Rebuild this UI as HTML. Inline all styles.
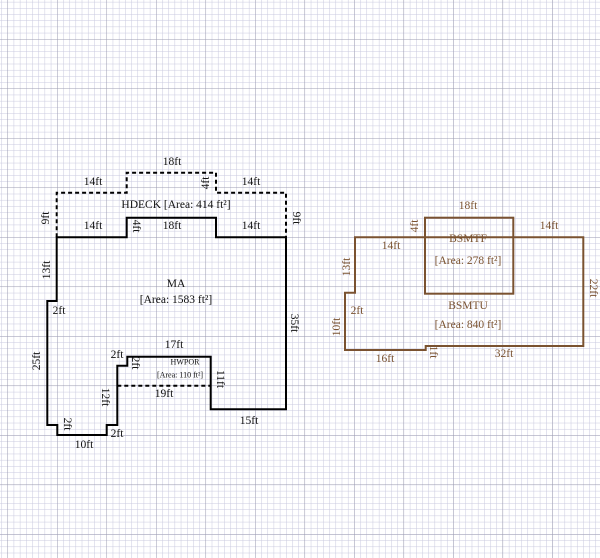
<!DOCTYPE html>
<html><head><meta charset="utf-8"><style>
html,body{margin:0;padding:0;background:#fff}
svg{display:block}
text{font-family:"Liberation Serif",serif;font-size:11.5px;fill:#111;text-anchor:middle;dominant-baseline:central}
.b text, text.b{fill:#7a5230}
</style></head><body>
<svg width="600" height="558" xmlns="http://www.w3.org/2000/svg">
<defs>
<pattern id="mn" x="57" y="39" width="6.19" height="6.19" patternUnits="userSpaceOnUse">
<path d="M0 0H6.19M0 0V6.19" stroke="#c8c8de" stroke-width="1" fill="none"/>
</pattern>
<pattern id="mj" x="57" y="39" width="49.5" height="49.5" patternUnits="userSpaceOnUse">
<path d="M0 0H49.5M0 0V49.5" stroke="#9c9cb2" stroke-width="1" fill="none"/>
</pattern>
</defs>
<rect width="600" height="558" fill="#fff"/>
<rect width="600" height="558" fill="url(#mn)"/>
<rect width="600" height="558" fill="url(#mj)"/>

<path d="M56.7 237.3V192.7H126.7V172.7H216V192.7H286V237.3" fill="none" stroke="#000" stroke-width="2" stroke-dasharray="4,3"/>
<path d="M56.7 237.3H126.7V217.7H216V237.3H286V409.3H210.7V356.7H127.3V365.7H117.3V425H106.7V435H57.3V425H47.3V301H56.7Z" fill="none" stroke="#000" stroke-width="2"/>
<path d="M117.3 385.7H210.7" stroke="#000" stroke-width="2" stroke-dasharray="4,3"/>

<path d="M355 237.3H583.3V346H425.7V350H345V292.7H355Z" fill="none" stroke="#7a5230" stroke-width="2"/>
<rect x="425" y="217.7" width="88.3" height="76" fill="none" stroke="#7a5230" stroke-width="2"/>

<text x="172" y="162">18ft</text>
<text x="93" y="182">14ft</text>
<text x="206" y="183" transform="rotate(-90 206 183)">4ft</text>
<text x="251" y="182">14ft</text>
<text x="176" y="205">HDECK  [Area: 414 ft²]</text>
<text x="46" y="218" transform="rotate(-90 46 218)">9ft</text>
<text x="296" y="218" transform="rotate(90 296 218)">9ft</text>
<text x="93" y="226">14ft</text>
<text x="136" y="226" transform="rotate(90 136 226)">4ft</text>
<text x="172" y="226">18ft</text>
<text x="251" y="226">14ft</text>
<text x="47" y="270" transform="rotate(-90 47 270)">13ft</text>
<text x="176" y="284">MA</text>
<text x="176" y="300">[Area: 1583 ft²]</text>
<text x="59" y="311">2ft</text>
<text x="294" y="323" transform="rotate(90 294 323)">35ft</text>
<text x="174" y="345">17ft</text>
<text x="117" y="355">2ft</text>
<text x="135" y="363" transform="rotate(90 135 363)">2ft</text>
<text x="185" y="362" style="font-size:8px">HWPOR</text>
<text x="180" y="375" style="font-size:8px">[Area: 110 ft²]</text>
<text x="220" y="379" transform="rotate(90 220 379)">11ft</text>
<text x="37" y="361" transform="rotate(-90 37 361)">25ft</text>
<text x="164" y="394">19ft</text>
<text x="105" y="397" transform="rotate(90 105 397)">12ft</text>
<text x="67" y="424" transform="rotate(90 67 424)">2ft</text>
<text x="117" y="434">2ft</text>
<text x="249" y="421">15ft</text>
<text x="84" y="445">10ft</text>

<g class="b">
<text x="468" y="206">18ft</text>
<text x="415" y="226" transform="rotate(-90 415 226)">4ft</text>
<text x="391" y="246">14ft</text>
<text x="549" y="226">14ft</text>
<text x="468" y="239">BSMTF</text>
<text x="468" y="261">[Area: 278 ft²]</text>
<text x="347" y="267" transform="rotate(-90 347 267)">13ft</text>
<text x="593" y="288" transform="rotate(90 593 288)">22ft</text>
<text x="357" y="311">2ft</text>
<text x="468" y="306">BSMTU</text>
<text x="468" y="325">[Area: 840 ft²]</text>
<text x="337" y="327" transform="rotate(-90 337 327)">10ft</text>
<text x="385" y="359">16ft</text>
<text x="433" y="352" transform="rotate(90 433 352)">1ft</text>
<text x="504" y="354">32ft</text>
</g>
</svg>
</body></html>
